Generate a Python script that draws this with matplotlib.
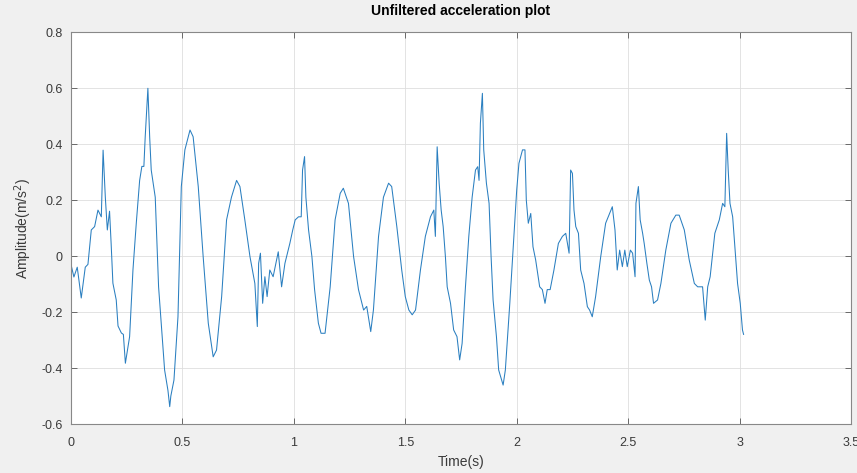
import matplotlib
matplotlib.use("Agg")
import matplotlib.pyplot as plt

plt.rcParams['font.family'] = ['Liberation Sans', 'DejaVu Sans']

time_s = [0.0, 0.013, 0.028, 0.046, 0.064, 0.076, 0.091, 0.106, 0.121, 0.136, 0.144, 0.154,
          0.163, 0.173, 0.18, 0.188, 0.203, 0.211, 0.226, 0.235, 0.244, 0.263, 0.278, 0.293,
          0.308, 0.318, 0.327, 0.333, 0.345, 0.353, 0.36, 0.378, 0.393, 0.42, 0.435, 0.443,
          0.448, 0.462, 0.48, 0.495, 0.511, 0.534, 0.548, 0.571, 0.593, 0.616, 0.638, 0.653,
          0.676, 0.698, 0.72, 0.743, 0.758, 0.78, 0.803, 0.825, 0.836, 0.842, 0.85, 0.86,
          0.87, 0.88, 0.892, 0.907, 0.93, 0.945, 0.96, 0.982, 0.995, 1.006, 1.021, 1.033,
          1.039, 1.048, 1.054, 1.066, 1.081, 1.093, 1.11, 1.122, 1.14, 1.163, 1.185, 1.208,
          1.222, 1.245, 1.268, 1.29, 1.313, 1.327, 1.345, 1.357, 1.38, 1.402, 1.425, 1.439,
          1.462, 1.484, 1.5, 1.516, 1.531, 1.546, 1.568, 1.59, 1.613, 1.628, 1.635, 1.643,
          1.652, 1.661, 1.67, 1.68, 1.688, 1.703, 1.717, 1.732, 1.744, 1.755, 1.77, 1.785,
          1.8, 1.815, 1.825, 1.831, 1.837, 1.846, 1.852, 1.864, 1.876, 1.885, 1.894, 1.909,
          1.919, 1.939, 1.949, 1.969, 1.987, 2.0, 2.01, 2.026, 2.037, 2.043, 2.052, 2.063,
          2.073, 2.085, 2.103, 2.115, 2.127, 2.137, 2.15, 2.167, 2.187, 2.205, 2.22, 2.235,
          2.242, 2.25, 2.257, 2.265, 2.277, 2.287, 2.302, 2.317, 2.327, 2.339, 2.354, 2.377,
          2.399, 2.414, 2.429, 2.441, 2.451, 2.462, 2.474, 2.485, 2.496, 2.51, 2.52, 2.531,
          2.535, 2.546, 2.554, 2.565, 2.572, 2.584, 2.595, 2.605, 2.614, 2.632, 2.647, 2.669,
          2.692, 2.714, 2.729, 2.752, 2.774, 2.797, 2.812, 2.834, 2.846, 2.857, 2.868, 2.889,
          2.909, 2.924, 2.934, 2.942, 2.949, 2.957, 2.969, 2.979, 2.991, 3.003, 3.013, 3.018]

amplitude = [-0.03, -0.075, -0.04, -0.15, -0.04, -0.03, 0.093, 0.105, 0.164, 0.14, 0.378, 0.21,
             0.093, 0.16, 0.046, -0.097, -0.157, -0.25, -0.275, -0.28, -0.383, -0.288, -0.05, 0.118,
             0.27, 0.32, 0.32, 0.426, 0.599, 0.426, 0.307, 0.21, -0.11, -0.407, -0.48, -0.538,
             -0.5, -0.443, -0.217, 0.248, 0.379, 0.45, 0.426, 0.248, -0.002, -0.24, -0.36, -0.336,
             -0.145, 0.129, 0.21, 0.27, 0.248, 0.129, -0.002, -0.098, -0.252, -0.026, 0.01, -0.169,
             -0.074, -0.145, -0.05, -0.074, 0.015, -0.11, -0.026, 0.045, 0.093, 0.129, 0.14, 0.14,
             0.307, 0.355, 0.21, 0.093, -0.002, -0.12, -0.24, -0.276, -0.276, -0.11, 0.129, 0.224,
             0.242, 0.188, -0.002, -0.12, -0.193, -0.18, -0.27, -0.193, 0.07, 0.21, 0.26, 0.248,
             0.105, -0.05, -0.145, -0.193, -0.21, -0.193, -0.05, 0.07, 0.14, 0.164, 0.07, 0.39,
             0.26, 0.164, 0.105, -0.002, -0.11, -0.169, -0.264, -0.288, -0.371, -0.312, -0.11, 0.07,
             0.21, 0.307, 0.319, 0.27, 0.474, 0.581, 0.379, 0.26, 0.188, -0.002, -0.157, -0.288,
             -0.407, -0.461, -0.407, -0.169, 0.07, 0.236, 0.331, 0.379, 0.379, 0.2, 0.117, 0.152,
             0.033, -0.014, -0.11, -0.12, -0.169, -0.12, -0.12, -0.05, 0.045, 0.07, 0.081, 0.01,
             0.307, 0.295, 0.164, 0.105, 0.081, -0.05, -0.098, -0.181, -0.193, -0.217, -0.145, -0.002,
             0.117, 0.146, 0.176, 0.093, -0.05, 0.021, -0.038, 0.021, -0.038, 0.021, 0.01, -0.074,
             0.188, 0.248, 0.129, 0.081, 0.045, -0.026, -0.086, -0.11, -0.169, -0.157, -0.098, 0.021,
             0.117, 0.146, 0.146, 0.093, -0.014, -0.098, -0.11, -0.11, -0.229, -0.11, -0.074, 0.081,
             0.129, 0.188, 0.176, 0.438, 0.307, 0.188, 0.14, 0.033, -0.098, -0.169, -0.264, -0.28]

x_ticks = [0, 0.5, 1, 1.5, 2, 2.5, 3, 3.5]
x_tick_labels = ['0', '0.5', '1', '1.5', '2', '2.5', '3', '3.5']
y_ticks = [-0.6, -0.4, -0.2, 0, 0.2, 0.4, 0.6, 0.8]
y_tick_labels = ['-0.6', '-0.4', '-0.2', '0', '0.2', '0.4', '0.6', '0.8']

fig = plt.figure(figsize=(8.57, 4.73), dpi=100, facecolor='#f0f0f0')
ax = fig.add_axes([71 / 857, 49 / 473, 780 / 857, 392 / 473])
ax.set_facecolor('white')

ax.plot(time_s, amplitude, color='#2a7fc0', linewidth=0.75)

ax.set_xlim(0, 3.5)
ax.set_ylim(-0.6, 0.8)
ax.set_xticks(x_ticks)
ax.set_xticklabels(x_tick_labels)
ax.set_yticks(y_ticks)
ax.set_yticklabels(y_tick_labels)

ax.grid(True, color='#dedede', linewidth=0.6)
ax.set_axisbelow(True)
ax.tick_params(direction='in', length=4, width=0.6, colors='#555555', labelsize=9,
               labelcolor='#3a3a3a', top=True, right=True)
ax.tick_params(axis='x', pad=9)
ax.tick_params(axis='y', pad=6)
for s in ax.spines.values():
    s.set_color('#888888')
    s.set_linewidth(0.8)

ax.set_title('Unfiltered acceleration plot', fontsize=10, fontweight='bold', pad=12)
ax.set_xlabel('Time(s)', fontsize=10, color='#3a3a3a', labelpad=5)
ax.set_ylabel('Amplitude(m/s$^2$)', fontsize=10, color='#3a3a3a', labelpad=5)

fig.savefig('out.png', dpi=100, facecolor=fig.get_facecolor())
